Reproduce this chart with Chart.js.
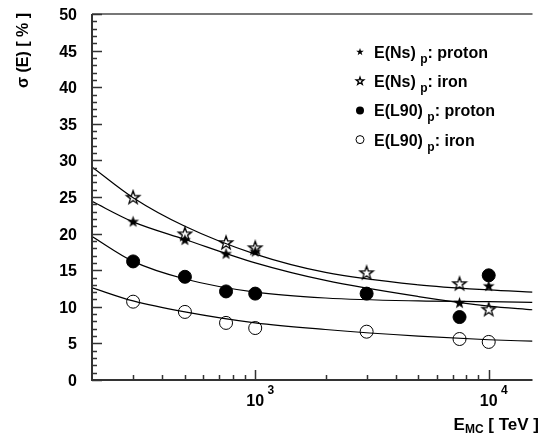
<!DOCTYPE html>
<html>
<head>
<meta charset="utf-8">
<script src="https://cdn.jsdelivr.net/npm/chart.js@4.4.0/dist/chart.umd.min.js"></script>
<style>
  html, body { margin: 0; padding: 0; background: #fff; overflow: hidden; }
  canvas { display: block; }
</style>
</head>
<body>
<canvas id="resChart" width="540" height="434"></canvas>
<script>
// simulated primary energies [TeV]
const energies = [300, 500, 750, 1000, 3000, 7500, 10000];
// energy resolution sigma(E) [%] per estimator
const nsProton = [21.6, 19.1, 17.2, 17.5, null, 10.5, 12.8];
const nsIron = [24.9, 19.9, 18.7, 18.0, 14.6, 13.1, 9.6];
const l90Proton = [16.2, 14.1, 12.1, 11.8, 11.8, 8.6, 14.3];
const l90Iron = [10.7, 9.3, 7.8, 7.1, 6.6, 5.6, 5.2];

// fitted curves, sampled along the energy axis
const fitEnergies = [200, 300, 500, 1000, 2000, 5000, 10000, 15400];
const nsIronFit = [29.1, 24.9, 21.0, 17.2, 14.7, 13.0, 12.3, 12.0];
const nsProtonFit = [24.4, 21.6, 19.2, 16.0, 13.6, 11.4, 10.1, 9.6];
const l90ProtonFit = [19.6, 16.2, 13.8, 12.0, 11.2, 10.8, 10.7, 10.6];
const l90IronFit = [12.6, 10.8, 9.3, 7.8, 6.9, 6.0, 5.5, 5.3];

// axis labels
const yTickValues = [0, 5, 10, 15, 20, 25, 30, 35, 40, 45, 50];
const xDecades = [1000, 10000];
const xDecadeExp = ['3', '4'];

// legend
const legendNames = ['E(Ns)', 'E(Ns)', 'E(L90)', 'E(L90)'];
const legendSub = ['p', 'p', 'p', 'p'];
const legendTail = [': proton', ': iron', ': proton', ': iron'];
const legendMarks = ['starFilled', 'starOpen', 'dotFilled', 'dotOpen'];

const FONT = '"Liberation Sans", Arial, Helvetica, sans-serif';

function starPath(ctx, cx, cy, r) {
  const ri = r * 0.4;
  ctx.beginPath();
  for (let i = 0; i < 10; i++) {
    const a = -Math.PI / 2 + i * Math.PI / 5;
    const rr = i % 2 === 0 ? r : ri;
    const px = cx + rr * Math.cos(a), py = cy + rr * Math.sin(a);
    if (i === 0) ctx.moveTo(px, py); else ctx.lineTo(px, py);
  }
  ctx.closePath();
}

function drawMark(ctx, kind, cx, cy, s) {
  ctx.save();
  ctx.strokeStyle = '#000';
  ctx.fillStyle = '#000';
  ctx.lineWidth = 1.3;
  if (kind === 'starFilled') { starPath(ctx, cx, cy, s); ctx.fill(); }
  else if (kind === 'starOpen') { starPath(ctx, cx, cy, s); ctx.stroke(); }
  else if (kind === 'dotFilled') { ctx.beginPath(); ctx.arc(cx, cy, s, 0, Math.PI * 2); ctx.fill(); }
  else { ctx.lineWidth = 1; ctx.beginPath(); ctx.arc(cx, cy, s, 0, Math.PI * 2); ctx.stroke(); }
  ctx.restore();
}

function markImage(kind, r) {
  const size = Math.ceil(r * 2 + 4);
  const c = document.createElement('canvas');
  c.width = size; c.height = size;
  drawMark(c.getContext('2d'), kind, size / 2, size / 2, r);
  return c;
}

const pts = (xs, ys) => xs.map((x, i) => ({ x: x, y: ys[i] })).filter(p => p.y !== null);

function markerSet(label, ys, style, fillColor) {
  return {
    label: label, data: pts(energies, ys), showLine: false,
    pointStyle: style, pointRadius: 6.5, pointHoverRadius: 6.5,
    pointBackgroundColor: fillColor, pointBorderColor: '#000', pointBorderWidth: 1
  };
}

function fitSet(ys) {
  return {
    data: pts(fitEnergies, ys), borderColor: '#000', borderWidth: 1.2,
    pointRadius: 0, cubicInterpolationMode: 'monotone', fill: false
  };
}

function drawParts(ctx, x, y, parts, align) {
  let total = 0;
  parts.forEach(p => { ctx.font = 'bold ' + p[1] + 'px ' + FONT; total += ctx.measureText(p[0]).width; });
  let cx = align === 'right' ? x - total : x;
  ctx.textAlign = 'left';
  parts.forEach(p => {
    ctx.font = 'bold ' + p[1] + 'px ' + FONT;
    ctx.fillText(p[0], cx, y + (p[2] || 0));
    cx += ctx.measureText(p[0]).width;
  });
}

const frame = {
  id: 'frame',
  afterDraw(chart) {
    const ctx = chart.ctx, a = chart.chartArea;
    const xs = chart.scales.x, ys = chart.scales.y;
    ctx.save();
    ctx.fillStyle = '#000';
    ctx.textBaseline = 'alphabetic';

    // top frame line
    ctx.strokeStyle = '#777';
    ctx.lineWidth = 2;
    ctx.beginPath(); ctx.moveTo(a.left, a.top); ctx.lineTo(a.right, a.top); ctx.stroke();

    // axes
    ctx.strokeStyle = '#333';
    ctx.beginPath();
    ctx.moveTo(a.left, a.top); ctx.lineTo(a.left, a.bottom); ctx.lineTo(a.right, a.bottom);
    ctx.stroke();

    // y ticks, pointing inward
    ctx.lineWidth = 1.5;
    ctx.beginPath();
    for (let v = 0; v <= 50; v++) {
      const py = Math.round(ys.getPixelForValue(v)) + 0.5;
      ctx.moveTo(a.left, py); ctx.lineTo(a.left + (v % 5 === 0 ? 10 : 5), py);
    }
    // x ticks on the log axis
    for (let d = 100; d <= 10000; d *= 10) {
      for (let m = 1; m <= 9; m++) {
        const v = d * m;
        if (v <= xs.min || v >= xs.max) continue;
        const px = Math.round(xs.getPixelForValue(v)) + 0.5;
        ctx.moveTo(px, a.bottom); ctx.lineTo(px, a.bottom - (m === 1 ? 10 : 5));
      }
    }
    ctx.stroke();

    // y tick labels
    ctx.font = 'bold 16px ' + FONT;
    ctx.textAlign = 'right';
    yTickValues.forEach(v => ctx.fillText(String(v), 77, ys.getPixelForValue(v) + 6));

    // x tick labels 10^n
    xDecades.forEach((v, i) => {
      const px = xs.getPixelForValue(v);
      ctx.font = 'bold 16px ' + FONT;
      const w = ctx.measureText('10').width;
      drawParts(ctx, px - w / 2, 406, [['10', 16], [' ' + xDecadeExp[i], 12, -12]], 'left');
    });

    // axis titles
    drawParts(ctx, 539, 430, [['E', 17], ['MC', 12, 3], [' [ TeV ]', 17]], 'right');
    ctx.save();
    ctx.translate(28, 13);
    ctx.rotate(-Math.PI / 2);
    drawParts(ctx, 0, 0, [['\u03c3 (E) [ % ]', 16]], 'right');
    ctx.restore();

    // legend
    legendNames.forEach((name, i) => {
      const base = 58 + i * 29.2;
      drawMark(ctx, legendMarks[i], 360, base - 6, 4);
      drawParts(ctx, 374, base, [[name + ' ', 16], [legendSub[i], 12, 5], [legendTail[i], 16]], 'left');
    });
    ctx.restore();
  }
};

new Chart(document.getElementById('resChart'), {
  type: 'line',
  data: {
    datasets: [
      markerSet('E(Ns)p: proton', nsProton, markImage('starFilled', 6.3), '#000'),
      markerSet('E(Ns)p: iron', nsIron, markImage('starOpen', 7), 'rgba(0,0,0,0)'),
      markerSet('E(L90)p: proton', l90Proton, 'circle', '#000'),
      markerSet('E(L90)p: iron', l90Iron, 'circle', 'rgba(0,0,0,0)'),
      fitSet(nsIronFit),
      fitSet(nsProtonFit),
      fitSet(l90ProtonFit),
      fitSet(l90IronFit)
    ]
  },
  options: {
    responsive: false,
    devicePixelRatio: 1,
    animation: false,
    layout: { padding: { left: 92, top: 14, right: 0, bottom: 54 } },
    scales: {
      x: { type: 'logarithmic', min: 200, max: 15400, display: false },
      y: { type: 'linear', min: 0, max: 50, display: false }
    },
    plugins: { legend: { display: false }, tooltip: { enabled: false } }
  },
  plugins: [frame]
});
</script>
</body>
</html>
